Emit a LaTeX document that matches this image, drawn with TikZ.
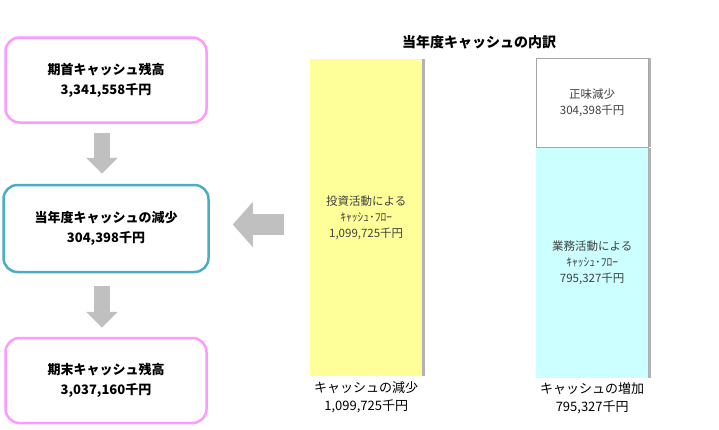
\documentclass[tikz,border=0pt]{standalone}
\usepackage{fontspec}
\setmainfont{Noto Sans CJK JP}
\usepackage{tikz}
\usetikzlibrary{arrows.meta,positioning,shadows}
\definecolor{pinkline}{RGB}{255,153,255}
\definecolor{tealline}{RGB}{75,172,198}
\definecolor{baryellow}{RGB}{255,255,153}
\definecolor{barcyan}{RGB}{204,255,255}
\definecolor{arrowgray}{RGB}{192,192,192}

\begin{document}
\begin{tikzpicture}[x=1pt, y=-1pt,
balance/.style={draw=pinkline, line width=2.5pt, rounded corners=14pt, fill=white, align=center, minimum width=201pt, minimum height=85pt, font=\fontsize{13}{20}\selectfont\bfseries},
change/.style={balance, draw=tealline, minimum width=205pt, minimum height=87pt},
bar/.style={minimum width=112pt, align=center, text=black!75, font=\fontsize{11.5}{16}\selectfont, general shadow={shadow xshift=3pt, shadow yshift=0pt, fill=black!30}},
caption/.style={align=center, font=\fontsize{13}{18}\selectfont, inner sep=1pt},
blockdown/.style={arrowgray, line width=16pt, -{Triangle[length=16pt, width=31pt]}},
blockleft/.style={arrowgray, line width=21pt, -{Triangle[length=20pt, width=44pt]}}
]
\useasboundingbox (0,0) rectangle (719,429);

% balances on the left
\node[balance] (open) at (106,80) {期首キャッシュ残高\\3,341,558千円};
\node[change, below=60pt of open] (change) {当年度キャッシュの減少\\304,398千円};
\node[balance, below=63.5pt of change] (close) {期末キャッシュ残高\\3,037,160千円};

% breakdown bars
\node[font=\fontsize{14}{16}\selectfont\bfseries] (title) at (479,42) {当年度キャッシュの内訳};
\node[bar, fill=baryellow, minimum height=317pt, anchor=north west] (invest) at (310,59) {投資活動による\\ｷｬｯｼｭ･ﾌﾛｰ\\1,099,725千円};
\node[bar, fill=white, draw=black!35, minimum height=89pt, anchor=north west] (net) at (536,58) {正味減少\\304,398千円};
\node[bar, fill=barcyan, minimum height=230pt, below=0pt of net] (oper) {業務活動による\\ｷｬｯｼｭ･ﾌﾛｰ\\795,327千円};
\node[caption, below=4pt of invest] (dec) {キャッシュの減少\\1,099,725千円};
\node[caption, below=4pt of oper] (inc) {キャッシュの増加\\795,327千円};

% arrows
\draw[blockdown, shorten <=9pt, shorten >=10pt] ([xshift=-4pt]open.south) -- ([xshift=-4pt]change.north);
\draw[blockdown, shorten <=13pt, shorten >=9pt] ([xshift=-4pt]change.south) -- ([xshift=-4pt]close.north);
\draw[blockleft, shorten <=26pt, shorten >=23pt] ([yshift=4pt]invest.west |- change.east) -- ([yshift=4pt]change.east);
\end{tikzpicture}
\end{document}
